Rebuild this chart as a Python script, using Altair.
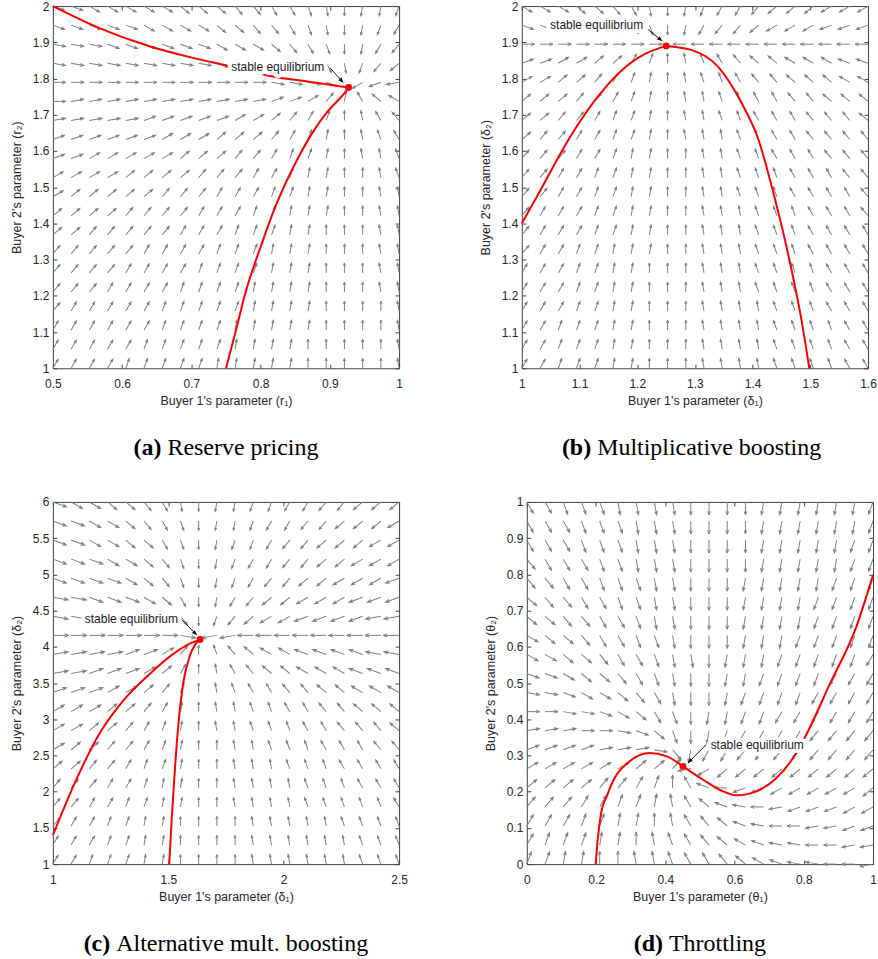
import math
import altair as alt
import pandas as pd

# ------------------------------------------------------------------
# Values
# ------------------------------------------------------------------
# Quiver grids (20 x 20 per panel): one string per grid row, top row first,
# one character per column, left to right.  Each character is a base-36 digit d:
# the arrow points d*10 degrees counter-clockwise from east (as seen on screen).
# '.' = grid point whose arrow is hidden under the equilibrium dot.

A_X_DOMAIN = [0.5, 1.0]
A_Y_DOMAIN = [1.0, 2.0]
A_X_TICKS = [0.5, 0.6, 0.7, 0.8, 0.9, 1.0]
A_Y_TICKS = [1.0, 1.1, 1.2, 1.3, 1.4, 1.5, 1.6, 1.7, 1.8, 1.9, 2.0]
A_DIRS = [
    "yyxxxxxwwwvvuutsrqqp",
    "yyyyyxxxxwwvvutsrqpo",
    "zzzyyyyyyxxxwvutrqon",
    "zzzzzzzzzyyyxxwuspnm",
    "000000000000zzzy.lkj",
    "01111111111122358cef",
    "11111222223345679acd",
    "22222233344456789abc",
    "22333334445567789aab",
    "333344445556678899ab",
    "344444555666778899aa",
    "444455556667788899aa",
    "445555566677788999aa",
    "555556666777888999aa",
    "555566667777888999aa",
    "555666677778888999aa",
    "5666667777788889999a",
    "6666667777888889999a",
    "6666677777888899999a",
    "6666777778888899999a",
]
A_TRAJ1_X = [0.5, 0.5663, 0.6383, 0.7007, 0.7536, 0.8137, 0.8785, 0.927]
A_TRAJ1_Y = [2.0, 1.940, 1.8898, 1.8576, 1.8347, 1.8072, 1.7887, 1.775]
A_TRAJ2_X = [0.75, 0.7632, 0.7777, 0.8016, 0.8209, 0.8545, 0.8736, 0.8977, 0.9217, 0.927]
A_TRAJ2_Y = [1.0, 1.0956, 1.2058, 1.3435, 1.444, 1.582, 1.6465, 1.711, 1.761, 1.775]
A_EQ = [0.927, 1.775]
A_NOTE_AT = [0.7575, 1.832]
A_POINTER = [0.9001, 1.830, 0.9193, 1.789]   # tail x, tail y, head x, head y

B_X_DOMAIN = [1.0, 1.6]
B_Y_DOMAIN = [1.0, 2.0]
B_X_TICKS = [1.0, 1.1, 1.2, 1.3, 1.4, 1.5, 1.6]
B_Y_TICKS = [1.0, 1.1, 1.2, 1.3, 1.4, 1.5, 1.6, 1.7, 1.8, 1.9, 2.0]
B_DIRS = [
    "xxxwwvusrqpoonmmmlll",
    "yyyxxwvtrqonnmlllkkk",
    "00000000.iiiiiiiiiii",
    "223344679abcdeefffgg",
    "334456789abbcddeeeff",
    "444556789aabbccddeee",
    "445567789aabbcccddde",
    "455667789aaabbccdddd",
    "5556678899aabbcccddd",
    "5566778899aabbbcccdd",
    "5566778899aabbbccccd",
    "5666778899aaabbbcccd",
    "5666778899aaabbbcccc",
    "5667788899aaabbbcccc",
    "6667788999aaabbbbccc",
    "6667788999aaabbbbccc",
    "6667788999aaaabbbccc",
    "6677788999aaaabbbbcc",
    "6677788999aaaabbbbcc",
    "6677788999aaaabbbbcc",
]
B_TRAJ1_X = [1.0, 1.0335, 1.0798, 1.126, 1.172, 1.2128, 1.25]
B_TRAJ1_Y = [1.4, 1.495, 1.628, 1.738, 1.821, 1.867, 1.89]
B_TRAJ2_X = [1.4982, 1.4838, 1.4665, 1.438, 1.4093, 1.38, 1.3399, 1.2936, 1.25]
B_TRAJ2_Y = [1.0, 1.141, 1.279, 1.472, 1.635, 1.735, 1.833, 1.879, 1.89]
B_EQ = [1.2502, 1.890]
B_NOTE_AT = [1.049, 1.9477]
B_POINTER = [1.2185, 1.9358, 1.2433, 1.9036]

C_X_DOMAIN = [1.0, 2.5]
C_Y_DOMAIN = [1.0, 6.0]
C_X_TICKS = [1.0, 1.5, 2.0, 2.5]
C_Y_TICKS = [1.0, 1.5, 2.0, 2.5, 3.0, 3.5, 4.0, 4.5, 5.0, 5.5, 6.0]
C_DIRS = [
    "yxxwwvusrqqppoonnmmm",
    "yyxxwvutrqqpoonnmmml",
    "yyxxwwutrqpponnmmmll",
    "yyyxxwvtrqpoonnmmlll",
    "yyyyxwvtrqponnmmlllk",
    "zzyyyxwurqonmmlllkkk",
    "zzzzyyxvrpnmllkkkkjj",
    "0000000z.jjiiiiiiiii",
    "111122359bdeffgggghh",
    "112223469acdeefffggg",
    "222334579abccddeefff",
    "333445689aabbccddeee",
    "334456789aabbbccddde",
    "3445567899aabbbcccdd",
    "4455677899aaabbbcccc",
    "5556678899aaaabbbccc",
    "5566778899aaaabbbbbc",
    "56677889999aaaaabbbb",
    "66677889999aaaaaabbb",
    "66777889999aaaaaabbb",
]
C_TRAJ1_X = [1.0, 1.098, 1.199, 1.314, 1.415, 1.516, 1.602, 1.638]
C_TRAJ1_Y = [1.4, 2.143, 2.786, 3.291, 3.612, 3.888, 4.058, 4.10]
C_TRAJ2_X = [1.504, 1.516, 1.530, 1.545, 1.566, 1.595, 1.638]
C_TRAJ2_Y = [1.0, 1.685, 2.373, 2.970, 3.521, 3.888, 4.10]
C_EQ = [1.638, 4.10]
C_NOTE_AT = [1.1383, 4.384]
C_POINTER = [1.559, 4.370, 1.6238, 4.164]

D_X_DOMAIN = [0.0, 1.0]
D_Y_DOMAIN = [0.0, 1.0]
D_X_TICKS = [0.0, 0.2, 0.4, 0.6, 0.8, 1.0]
D_Y_TICKS = [0.0, 0.1, 0.2, 0.3, 0.4, 0.5, 0.6, 0.7, 0.8, 0.9, 1.0]
D_DIRS = [
    "uutttssssrrrrqqqqqqp",
    "uuutttsssrrrrqqqqqqp",
    "uuutttsssrrrrqqqqqpp",
    "vuuuttsssrrrrqqqqqpp",
    "vvuutttssrrrqqqqqppp",
    "wvvuuttssrrrqqqqpppp",
    "wwvvuutssrrrqqqqpppp",
    "xwwvuuttsrrrqqqppppp",
    "xxwwvuutssrqqqpppppo",
    "yyxwwvutsrrqqppppooo",
    "zzyxxwvusrrqppppoooo",
    "00zzyxwutrqqppoooooo",
    "11100zywtrqpoooonnnn",
    "2222111zvqoonnnnnnnn",
    "333333445jlmmmmmmmmm",
    "444455679cgikklllllm",
    "55566778aceghijkkkll",
    "66677889acdeghiijjkk",
    "6777889abcdefghhiijj",
    "778899aabccdefghhiij",
]
D_TRAJ1_X = [0.199, 0.205, 0.214, 0.232, 0.252, 0.297, 0.355, 0.403, 0.451]
D_TRAJ1_Y = [0.0, 0.07, 0.137, 0.19, 0.235, 0.284, 0.307, 0.298, 0.270]
D_TRAJ2_X = [1.0, 0.952, 0.875, 0.807, 0.769, 0.721, 0.663, 0.605, 0.567, 0.509, 0.451]
D_TRAJ2_Y = [0.798, 0.656, 0.497, 0.357, 0.293, 0.238, 0.201, 0.190, 0.201, 0.233, 0.270]
D_EQ = [0.451, 0.270]
D_NOTE_AT = [0.531, 0.328]
D_POINTER = [0.518, 0.3297, 0.4653, 0.279]

X_TITLES = ["Buyer 1's parameter (r\u2081)", "Buyer 1's parameter (\u03b4\u2081)",
            "Buyer 1's parameter (\u03b4\u2081)", "Buyer 1's parameter (\u03b8\u2081)"]
Y_TITLES = ["Buyer 2's parameter (r\u2082)", "Buyer 2's parameter (\u03b4\u2082)",
            "Buyer 2's parameter (\u03b4\u2082)", "Buyer 2's parameter (\u03b8\u2082)"]
CAPTION_TAGS = ["(a)", "(b)", "(c)", "(d)"]
CAPTION_TEXTS = ["Reserve pricing", "Multiplicative boosting",
                 "Alternative mult. boosting", "Throttling"]
NOTE_TEXT = "stable equilibrium"

# ------------------------------------------------------------------
# Style
# ------------------------------------------------------------------
W, H = 347, 363
GRAY = "#808080"
RED = "#ff0000"
INK = "#262626"
FRAME = "#404040"
ARROW_PATH = "M0,0L1,0M0.72,-0.11L1,0L0.72,0.11"
HEAD_PATH = "M0,0L-1,-0.42L-1,0.42Z"
# arrow length on screen (px) for horizontal / vertical arrows, per panel
ARROW_LEN = [(13, 10), (13, 10), (16, 9.5), (13, 13)]
CAP_FONT = "Liberation Serif"
CAP_SIZE = 24
# caption advance widths in em (tag bold, text regular) for Liberation Serif
CAP_EM = [(1.166, 6.304), (1.222, 9.638), (1.11, 10.528), (1.222, 4.056)]
SPACE_EM = 0.25
CAP_BASE = H + 87


def quiver_df(dirs, xdom, ydom, lens):
    rows = []
    nr = len(dirs)
    for r, line in enumerate(dirs):
        nc = len(line)
        for k, ch in enumerate(line):
            if ch == ".":
                continue
            th = int(ch, 36) * 10
            c = math.cos(math.radians(th))
            s = math.sin(math.radians(th))
            L = 1.0 / math.sqrt((c / lens[0]) ** 2 + (s / lens[1]) ** 2)
            rows.append({
                "x": xdom[0] + k * (xdom[1] - xdom[0]) / (nc - 1),
                "y": ydom[1] - r * (ydom[1] - ydom[0]) / (nr - 1),
                "ang": (360 - th) % 360,
                "size": (2 * L) ** 2,
            })
    return pd.DataFrame(rows)


def panel(i, xdom, ydom, xticks, yticks, dirs, trajs, eq, note_at, pointer):
    xs = alt.Scale(domain=xdom, nice=False, zero=False)
    ys = alt.Scale(domain=ydom, nice=False, zero=False)
    tick_common = dict(tickSize=4, offset=-4, domain=False, grid=False, ticks=True,
                       labelFlush=False, labelOverlap=False)

    q = quiver_df(dirs, xdom, ydom, ARROW_LEN[i])
    arrows = alt.Chart(q).mark_point(
        shape=ARROW_PATH, filled=False, color=GRAY, strokeWidth=1, opacity=1
    ).encode(
        x=alt.X("x:Q", scale=xs, axis=alt.Axis(orient="bottom", values=xticks, format="~g",
                                                title=X_TITLES[i], labelPadding=10, titlePadding=5,
                                                **tick_common)),
        y=alt.Y("y:Q", scale=ys, axis=alt.Axis(orient="left", values=yticks, format="~g",
                                                title=Y_TITLES[i], labelPadding=4, titlePadding=9,
                                                **tick_common)),
        angle=alt.Angle("ang:Q", scale=None),
        size=alt.Size("size:Q", scale=None),
    )

    crow = []
    for s, (tx, ty) in enumerate(trajs):
        for a, b in zip(tx, ty):
            crow.append({"seg": s, "cx": a, "cy": b})
    curves = alt.Chart(pd.DataFrame(crow)).mark_line(
        color=RED, strokeWidth=2, interpolate="monotone"
    ).encode(
        x=alt.X("cx:Q", scale=xs, title=None,
                axis=alt.Axis(orient="top", values=xticks, labels=False, **tick_common)),
        y=alt.Y("cy:Q", scale=ys, title=None,
                axis=alt.Axis(orient="right", values=yticks, labels=False, **tick_common)),
        detail="seg:N",
        order="cx:Q",
    )

    ndf = pd.DataFrame({"nx": [note_at[0]], "ny": [note_at[1]]})
    halo = alt.Chart(ndf).mark_text(
        text=NOTE_TEXT, align="left", baseline="middle", font="Liberation Sans", fontSize=12,
        fill="white", stroke="white", strokeWidth=8, strokeJoin="round"
    ).encode(x=alt.X("nx:Q", scale=xs, axis=None), y=alt.Y("ny:Q", scale=ys, axis=None))
    note = alt.Chart(ndf).mark_text(
        text=NOTE_TEXT, align="left", baseline="middle", font="Liberation Sans", fontSize=12,
        color="#1a1a1a"
    ).encode(x=alt.X("nx:Q", scale=xs, axis=None), y=alt.Y("ny:Q", scale=ys, axis=None))

    tx, ty, hx, hy = pointer
    dxp = (hx - tx) / (xdom[1] - xdom[0]) * W
    dyp = -(hy - ty) / (ydom[1] - ydom[0]) * H
    head_ang = math.degrees(math.atan2(dyp, dxp)) % 360
    pdf = pd.DataFrame({"tx": [tx], "ty": [ty], "hx": [hx], "hy": [hy], "ha": [head_ang]})
    shaft = alt.Chart(pdf).mark_rule(color="black", strokeWidth=0.9).encode(
        x=alt.X("tx:Q", scale=xs, axis=None), y=alt.Y("ty:Q", scale=ys, axis=None),
        x2="hx:Q", y2="hy:Q",
    )
    head = alt.Chart(pdf).mark_point(
        shape=HEAD_PATH, filled=True, color="black", size=100, opacity=1, strokeWidth=0.5
    ).encode(
        x=alt.X("hx:Q", scale=xs, axis=None), y=alt.Y("hy:Q", scale=ys, axis=None),
        angle=alt.Angle("ha:Q", scale=None),
    )

    edf = pd.DataFrame({"ex": [eq[0]], "ey": [eq[1]]})
    dot = alt.Chart(edf).mark_circle(size=48, color=RED, opacity=1).encode(
        x=alt.X("ex:Q", scale=xs, axis=None), y=alt.Y("ey:Q", scale=ys, axis=None)
    )

    tag_em, txt_em = CAP_EM[i]
    total = (tag_em + SPACE_EM + txt_em) * CAP_SIZE
    x0 = W / 2 - total / 2
    one = pd.DataFrame({"k": [0]})
    cap_tag = alt.Chart(one).mark_text(
        text=CAPTION_TAGS[i], align="left", baseline="alphabetic", font=CAP_FONT,
        fontSize=CAP_SIZE, fontWeight="bold", color="black"
    ).encode(x=alt.value(x0), y=alt.value(CAP_BASE))
    cap_txt = alt.Chart(one).mark_text(
        text=CAPTION_TEXTS[i], align="left", baseline="alphabetic", font=CAP_FONT,
        fontSize=CAP_SIZE, color="black"
    ).encode(x=alt.value(x0 + (tag_em + SPACE_EM) * CAP_SIZE), y=alt.value(CAP_BASE))

    return alt.layer(
        arrows, curves, halo, note, shaft, head, dot, cap_tag, cap_txt
    ).resolve_axis(x="independent", y="independent").properties(width=W, height=H)


pa = panel(0, A_X_DOMAIN, A_Y_DOMAIN, A_X_TICKS, A_Y_TICKS, A_DIRS,
           [(A_TRAJ1_X, A_TRAJ1_Y), (A_TRAJ2_X, A_TRAJ2_Y)], A_EQ, A_NOTE_AT, A_POINTER)
pb = panel(1, B_X_DOMAIN, B_Y_DOMAIN, B_X_TICKS, B_Y_TICKS, B_DIRS,
           [(B_TRAJ1_X, B_TRAJ1_Y), (B_TRAJ2_X, B_TRAJ2_Y)], B_EQ, B_NOTE_AT, B_POINTER)
pc = panel(2, C_X_DOMAIN, C_Y_DOMAIN, C_X_TICKS, C_Y_TICKS, C_DIRS,
           [(C_TRAJ1_X, C_TRAJ1_Y), (C_TRAJ2_X, C_TRAJ2_Y)], C_EQ, C_NOTE_AT, C_POINTER)
pd_ = panel(3, D_X_DOMAIN, D_Y_DOMAIN, D_X_TICKS, D_Y_TICKS, D_DIRS,
            [(D_TRAJ1_X, D_TRAJ1_Y), (D_TRAJ2_X, D_TRAJ2_Y)], D_EQ, D_NOTE_AT, D_POINTER)

chart = alt.vconcat(
    alt.hconcat(pa, pb, spacing=75),
    alt.hconcat(pc, pd_, spacing=75),
    spacing=34,
).properties(
    padding={"left": 9, "top": -2, "right": 0, "bottom": 0},
    background="white",
).configure_view(
    stroke=FRAME, strokeWidth=1
).configure_axis(
    labelFont="Liberation Sans", labelFontSize=12, labelColor=INK,
    titleFont="Liberation Sans", titleFontSize=12.5, titleFontWeight="normal", titleColor=INK,
    tickColor=FRAME, tickWidth=1,
)

chart.save("out.html", embed_options={"renderer": "svg", "actions": False})
